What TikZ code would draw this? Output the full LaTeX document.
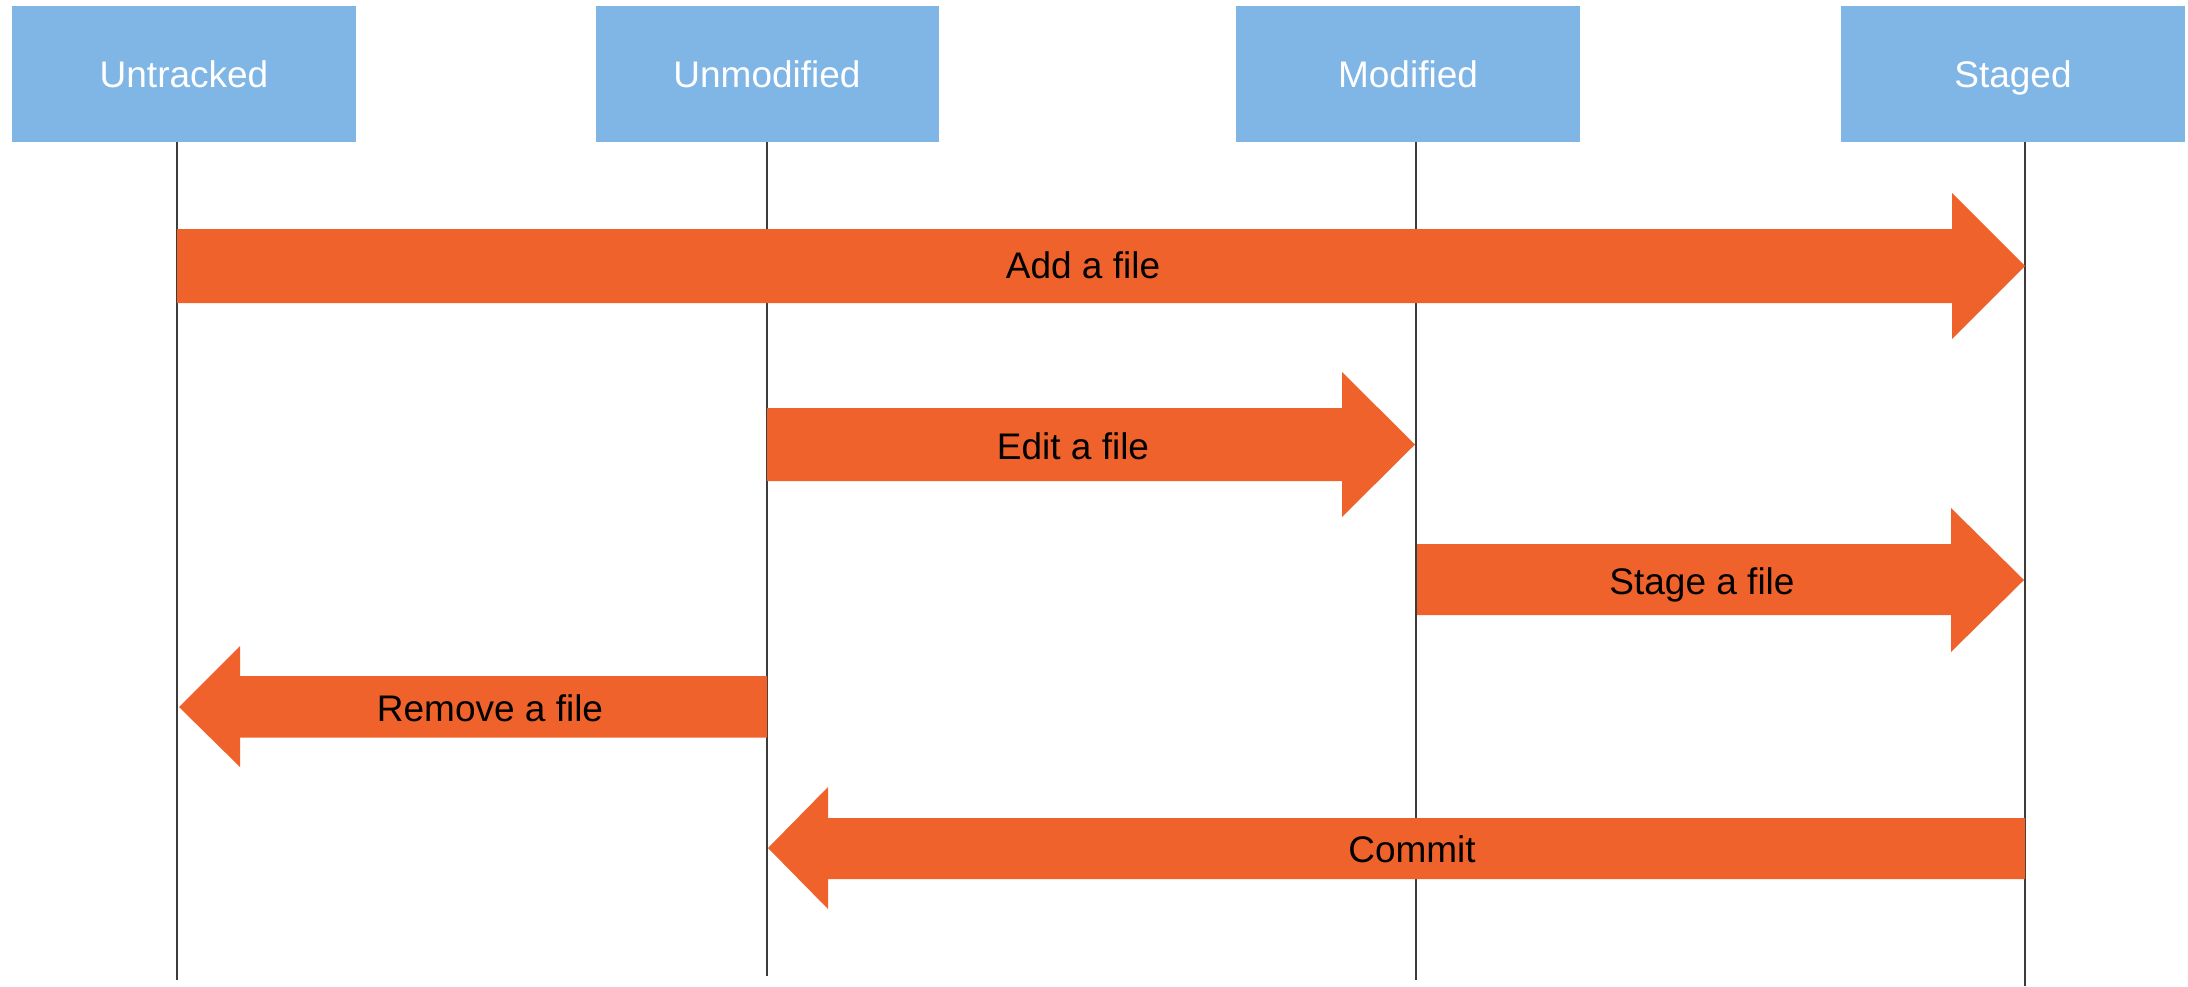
\documentclass[tikz,border=0pt]{standalone}
\usepackage{fontspec}
\setmainfont{Liberation Sans}
\definecolor{boxblue}{RGB}{128,182,229}
\definecolor{arrorange}{RGB}{240,98,43}
\definecolor{lifegray}{RGB}{60,60,60}
\tikzset{
  statebox/.style={rectangle, fill=boxblue, draw=none, minimum width=344pt, minimum height=136pt, inner sep=0pt, text=white, text depth=0pt, font=\fontsize{37}{44}\selectfont},
  lifeline/.style={draw=lifegray, line width=1.4pt},
  fatarrow/.style={fill=arrorange, draw=none},
  arrlabel/.style={text=black, inner sep=0pt, text height=27pt, text depth=0pt, font=\fontsize{37}{44}\selectfont}
}
\begin{document}
\begin{tikzpicture}[x=1pt, y=-1pt]
\useasboundingbox (0,0) rectangle (2188,986);
% state boxes
\node[statebox] (untr) at (184,74) {Untracked};
\node[statebox, minimum width=343pt] (unmod) at (767,74) {Unmodified};
\node[statebox] (mod) at (1408,74) {Modified};
\node[statebox] (stag) at (2013,74) {Staged};
% lifeline ends
\coordinate (untrEnd) at (177,980);
\coordinate (unmodEnd) at (767,976);
\coordinate (modTop) at (1416,142);
\coordinate (modEnd) at (1416,980);
\coordinate (stagEnd) at (2025,986);
% lifelines
\draw[lifeline] (untr.south -| untrEnd) -- (untrEnd);
\draw[lifeline] (unmod.south -| unmodEnd) -- (unmodEnd);
\draw[lifeline] (modTop) -- (modEnd);
\draw[lifeline] (stag.south -| stagEnd) -- (stagEnd);
% arrows
\fill[fatarrow] (177,229) -- (1952,229) -- (1952,193) -- (2025,266) -- (1952,339) -- (1952,303) -- (177,303) -- cycle;
\fill[fatarrow] (767,408) -- (1342,408) -- (1342,372) -- (1415,444.5) -- (1342,517) -- (1342,481) -- (767,481) -- cycle;
\fill[fatarrow] (1417,544) -- (1951,544) -- (1951,508) -- (2024,580) -- (1951,652) -- (1951,615) -- (1417,615) -- cycle;
\fill[fatarrow] (767,676) -- (240,676) -- (240,646) -- (179,707) -- (240,767) -- (240,737.5) -- (767,737.5) -- cycle;
\fill[fatarrow] (2025,818) -- (828,818) -- (828,787) -- (768,848) -- (828,909) -- (828,879) -- (2025,879) -- cycle;
% labels
\node[arrlabel] (addl) at (1083,265) {Add a file};
\node[arrlabel] (editl) at (1073,446) {Edit a file};
\node[arrlabel] (stagel) at (1702,581) {Stage a file};
\node[arrlabel] (reml) at (490,708) {Remove a file};
\node[arrlabel] (coml) at (1412,849) {Commit};
\end{tikzpicture}
\end{document}
